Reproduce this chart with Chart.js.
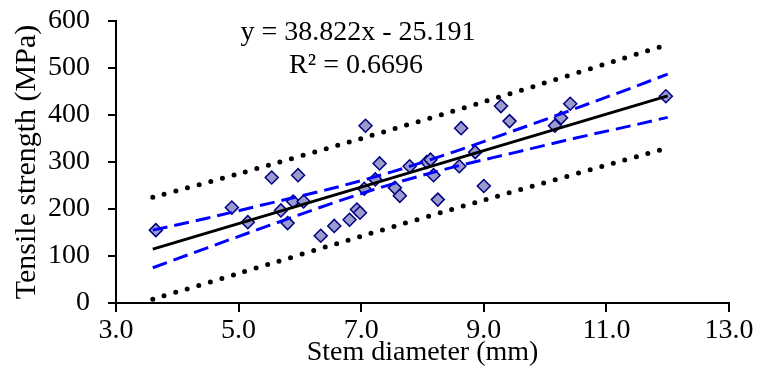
<!DOCTYPE html>
<html>
<head>
<meta charset="utf-8">
<script src="https://cdn.jsdelivr.net/npm/chart.js@4.4.1/dist/chart.umd.min.js"></script>
<style>
  html, body { margin: 0; padding: 0; background: #fff; }
  #wrap { width: 757px; height: 371px; }
</style>
</head>
<body>
<div id="wrap"><canvas id="chart"></canvas></div>
<script>
// measured points (stem diameter mm, tensile strength MPa)
const stemDiameter = [3.65, 4.89, 5.15, 5.54, 5.69, 5.80, 5.89, 5.97, 6.06, 6.34, 6.56, 6.81, 6.93, 6.98,
  7.05, 7.07, 7.23, 7.30, 7.55, 7.63, 7.79, 8.07, 8.13, 8.18, 8.25, 8.60, 8.63, 8.86, 9.00, 9.28, 9.42,
  10.16, 10.26, 10.41, 11.97];
const tensileStrength = [155, 203, 172, 267, 197, 170, 216, 272, 216, 143, 164, 177, 199, 192,
  243, 377, 263, 297, 245, 228, 291, 300, 305, 272, 220, 291, 372, 321, 249, 419, 387,
  377, 394, 424, 440];

// trend line ends
const fitX = [3.6, 12.0];
const fitY = [114.6, 440.7];

// 95% confidence band (blue dashed)
const bandX = [3.6, 4.5, 5.5, 6.5, 7.5, 8.5, 9.5, 10.5, 11.5, 12.0];
const confUpper = [155, 181, 212, 243, 279, 321, 367, 414, 462, 487];
const confLower = [75, 118, 165, 211, 253, 289, 320, 351, 380, 395];

// prediction band (black dotted)
const predX = [3.6, 5.0, 7.0, 9.0, 12.0];
const predUpper = [225, 275, 350, 428, 550];
const predLower = [8, 63, 142, 219, 330];

const xTicks = [3, 5, 7, 9, 11, 13];
const yTicks = [0, 100, 200, 300, 400, 500, 600];

const equation = 'y = 38.822x - 25.191';
const rSquared = 'R\u00B2 = 0.6696';

const serif = "'Liberation Serif', 'Times New Roman', serif";

const pairs = (xs, ys) => xs.map((x, i) => ({ x: x, y: ys[i] }));

const equationText = {
  id: 'equationText',
  afterDraw(chart) {
    const ctx = chart.ctx;
    ctx.save();
    ctx.fillStyle = '#000';
    ctx.font = '28px ' + serif;
    ctx.textAlign = 'center';
    ctx.textBaseline = 'middle';
    ctx.fillText(equation, 358, 33);
    ctx.fillText(rSquared, 356, 66);
    ctx.restore();
  }
};

const dotted = {
  borderColor: '#000',
  borderWidth: 5,
  borderDash: [0, 12],
  borderCapStyle: 'round',
  pointRadius: 0,
  fill: false,
  tension: 0.3
};
const dashed = {
  borderColor: '#0000FF',
  borderWidth: 3,
  borderDash: [15, 7],
  pointRadius: 0,
  fill: false,
  cubicInterpolationMode: 'monotone'
};

new Chart(document.getElementById('chart'), {
  type: 'scatter',
  data: {
    datasets: [
      { type: 'line', data: pairs(fitX, fitY), borderColor: '#000', borderWidth: 3, pointRadius: 0, fill: false },
      Object.assign({ type: 'line', data: pairs(bandX, confUpper) }, dashed),
      Object.assign({ type: 'line', data: pairs(bandX, confLower) }, dashed),
      Object.assign({ type: 'line', data: pairs(predX, predUpper) }, dotted),
      Object.assign({ type: 'line', data: pairs(predX, predLower) }, dotted),
      {
        data: pairs(stemDiameter, tensileStrength),
        pointStyle: 'rectRot',
        pointRadius: 6.5,
        backgroundColor: '#9A9ACC',
        borderColor: '#000080',
        borderWidth: 1.5
      }
    ]
  },
  options: {
    responsive: true,
    maintainAspectRatio: false,
    animation: false,
    layout: { padding: { top: 21, right: 28, left: 0, bottom: 0 } },
    plugins: { legend: { display: false }, tooltip: { enabled: false } },
    scales: {
      x: {
        type: 'linear',
        min: 3,
        max: 13,
        afterBuildTicks: (scale) => { scale.ticks = xTicks.map(v => ({ value: v })); },
        afterFit: (scale) => {
          scale.height = 68;
          scale.paddingLeft = 0;
          scale.paddingRight = 0;
        },
        grid: { drawOnChartArea: false, drawTicks: true, tickLength: 9, color: '#000', lineWidth: 2 },
        border: { color: '#000', width: 2 },
        ticks: {
          padding: 2,
          color: '#000',
          font: { family: serif, size: 28 },
          callback: (v) => Number(v).toFixed(1)
        },
        title: {
          display: true,
          text: 'Stem diameter (mm)',
          color: '#000',
          font: { family: serif, size: 28 },
          padding: { top: 0, bottom: 2 }
        }
      },
      y: {
        min: 0,
        max: 600,
        afterBuildTicks: (scale) => { scale.ticks = yTicks.map(v => ({ value: v })); },
        afterFit: (scale) => {
          scale.width = 116;
          scale.paddingTop = 0;
          scale.paddingBottom = 0;
        },
        grid: { drawOnChartArea: false, drawTicks: true, tickLength: 8, color: '#000', lineWidth: 2 },
        border: { color: '#000', width: 2 },
        ticks: {
          padding: 18,
          color: '#000',
          font: { family: serif, size: 28 }
        },
        title: {
          display: true,
          text: 'Tensile strength (MPa)',
          color: '#000',
          font: { family: serif, size: 30 },
          padding: { top: 9, bottom: 0 }
        }
      }
    }
  },
  plugins: [equationText]
});
</script>
</body>
</html>
